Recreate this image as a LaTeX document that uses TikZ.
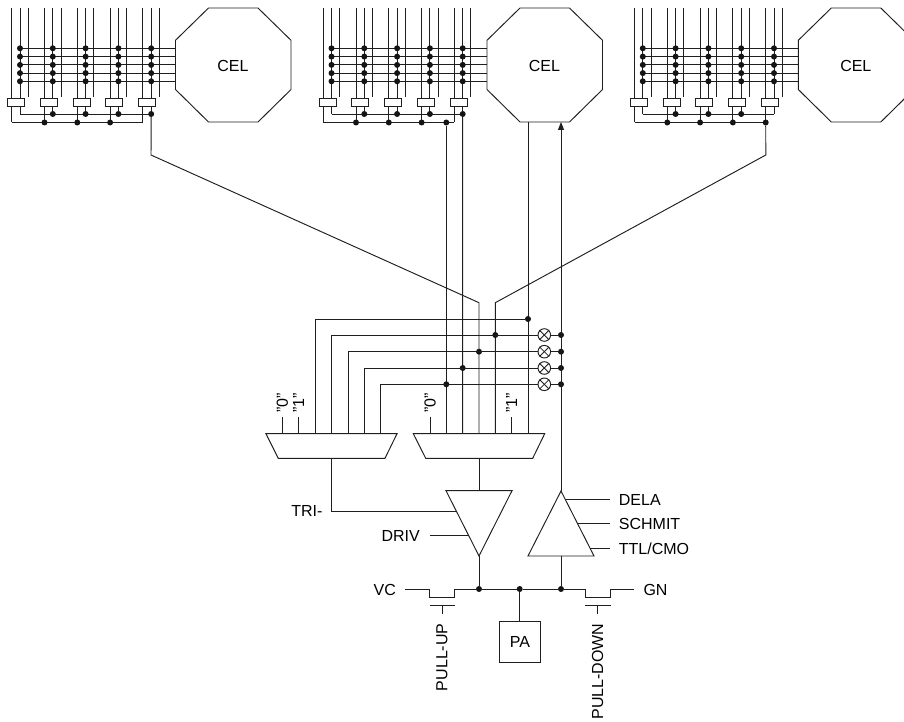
\documentclass[tikz,border=0pt]{standalone}
\usepackage{fontspec}
\setmainfont{Liberation Sans}
\usetikzlibrary{arrows.meta}
\tikzset{
  wire/.style={line width=0.95pt,draw=black!88,line join=miter},
  dotn/.style={circle,fill=black!92,inner sep=0pt,minimum size=6pt},
  lbl/.style={inner sep=0pt,font=\fontsize{16}{18}\selectfont},
  swbox/.style={draw=black!88,line width=0.95pt,fill=white,inner sep=0pt,minimum width=17pt,minimum height=8.3pt},
  xcirc/.style={circle,draw=black!88,line width=0.95pt,fill=white,inner sep=0pt,minimum size=12.6pt},
  padbox/.style={draw=black!88,line width=0.95pt,inner sep=0pt,minimum size=41pt,font=\fontsize{16}{18}\selectfont}
}
\begin{document}
\begin{tikzpicture}[x=1pt,y=-1pt]
\useasboundingbox (0,0) rectangle (904,722);
% CEL blocks
\foreach \b/\off in {1/0,2/311.5,3/622.8}{
\begin{scope}[shift={(\off,0)}]
  \node[lbl] (cel\b) at (233,66) {CEL};
  \draw[wire] (175.5,40.3) -- (208.5,8) -- (258,8) -- (291,40.3) -- (291,89.5) -- (258,122) -- (208.5,122) -- (175.5,89.5) -- cycle;
  \foreach \g in {0,...,4}{
    \pgfmathsetmacro{\xa}{11.7+32.8*\g}
    \pgfmathsetmacro{\xb}{\xa+8.3}
    \pgfmathsetmacro{\xc}{\xa+16.5}
    \coordinate (ta\b\g) at (\xa,8);
    \coordinate (tb\b\g) at (\xb,8);
    \coordinate (tc\b\g) at (\xc,8);
    \coordinate (ba\b\g) at (\xa,122.5);
    \coordinate (bb\b\g) at (\xb,114);
    \coordinate (bc\b\g) at (\xc,97);
    \draw[wire] (ta\b\g) -- (ba\b\g);
    \draw[wire] (tb\b\g) -- (bb\b\g);
    \draw[wire] (tc\b\g) -- (bc\b\g);
    \node[swbox] (sw\b\g) at ({\xa+4.3},102.2) {};
  }
  \foreach \y [count=\r] in {48.3,56.6,64.9,73.1,81.3}{
    \coordinate (hl\b\r) at (20,\y);
    \coordinate (hr\b\r) at (175.5,\y);
    \draw[wire] (hl\b\r) -- (hr\b\r);
    \foreach \g in {0,...,4}{
      \node[dotn] (m\b\r\g) at ({20+32.8*\g},\y) {};
    }
  }
  \draw[wire] (bb\b0) -- (bb\b4);
  \draw[wire] (ba\b0) -- (ba\b4);
  \foreach \g in {1,2,3}{
    \node[dotn] (pa\b\g) at (ba\b\g) {};
    \node[dotn] (pb\b\g) at (bb\b\g) {};
  }
\end{scope}
}
\node[dotn] (out1) at (bb14) {};
\node[dotn] (outa) at (446.3,122.5) {};
\node[dotn] (outb) at (bb24) {};
\node[dotn] (out3) at (ba34) {};
\coordinate (k1) at (151,155);
\coordinate (k3) at (765.8,155);
\coordinate (enbot) at (528,122);
\coordinate (intop) at (561,122);
% muxes
\draw[wire] (266,433.7) coordinate (ml) -- (397,433.7) -- (385,458.3) -- (278.3,458.3) -- cycle;
\draw[wire] (413.3,433.7) coordinate (mr) -- (544.7,433.7) -- (532.7,458.3) -- (425.7,458.3) -- cycle;
\coordinate (l0) at (282.3,433.7); \coordinate (l0t) at (282.3,417.3);
\coordinate (l1) at (298.7,433.7); \coordinate (l1t) at (298.7,417.3);
\coordinate (l2) at (315,433.7);
\coordinate (l3) at (331.7,433.7);
\coordinate (l4) at (348,433.7);
\coordinate (l5) at (364.3,433.7);
\coordinate (l6) at (380.7,433.7);
\coordinate (lo) at (331.7,458.3);
\coordinate (r0) at (430,433.7); \coordinate (r0t) at (430,417.3);
\coordinate (r1) at (446.3,433.7);
\coordinate (r2) at (462.7,433.7);
\coordinate (r3) at (479,433.7);
\coordinate (r4) at (495.3,433.7);
\coordinate (r5) at (511.7,433.7); \coordinate (r5t) at (511.7,417.3);
\coordinate (r6) at (528,433.7);
\coordinate (ro) at (479,458.3);
\draw[wire] (l0) -- (l0t); \draw[wire] (l1) -- (l1t);
\draw[wire] (r0) -- (r0t); \draw[wire] (r5) -- (r5t);
\node[lbl,rotate=90] (t0a) at (282.3,403) {"0"};
\node[lbl,rotate=90] (t1a) at (298.7,403) {"1"};
\node[lbl,rotate=90] (t0b) at (430,403) {"0"};
\node[lbl,rotate=90] (t1b) at (511.7,403) {"1"};
% long verticals
\draw[wire] (r1) -- (outa);
\draw[wire] (r2) -- (outb);
\draw[wire] (r3) -- (479,302.7) -- (k1) -- (out1);
\draw[wire] (r4) -- (495.3,302.7) -- (k3) -- (out3);
\draw[wire] (r6) -- (enbot);
% xor row
\node[dotn] (j1) at (528,319) {};
\node[dotn] (j2) at (495.3,335) {};
\node[dotn] (j3) at (479,351.7) {};
\node[dotn] (j4) at (462.7,368) {};
\node[dotn] (j5) at (446.3,384.3) {};
\node[xcirc] (x2) at (544.3,335) {};
\node[xcirc] (x3) at (544.3,351.7) {};
\node[xcirc] (x4) at (544.3,368) {};
\node[xcirc] (x5) at (544.3,384.3) {};
\foreach \n in {2,3,4,5}{
  \draw[wire,line width=0.8pt] (x\n.north west) -- (x\n.south east);
  \draw[wire,line width=0.8pt] (x\n.north east) -- (x\n.south west);
}
\node[dotn] (e2) at (561,335) {};
\node[dotn] (e3) at (561,351.7) {};
\node[dotn] (e4) at (561,368) {};
\node[dotn] (e5) at (561,384.3) {};
\draw[wire] (l2) -- (315,319) -- (j1);
\draw[wire] (l3) -- (331.7,335) -- (x2);
\draw[wire] (l4) -- (348,351.7) -- (x3);
\draw[wire] (l5) -- (364.3,368) -- (x4);
\draw[wire] (l6) -- (380.7,384.3) -- (x5);
\foreach \n in {2,3,4,5}{ \draw[wire] (x\n) -- (e\n); }
% buffers
\draw[wire] (446,490.7) coordinate (dl) -- (512,490.7) -- (479,556) coordinate (dapex) -- cycle;
\draw[wire] (561,491) coordinate (rapex) -- (594,556) -- (528,556) -- cycle;
\coordinate (dtop) at (479,490.7);
\coordinate (rbase) at (561,556);
\coordinate (dtri) at (456,511);
\coordinate (driv) at (468.7,535.7);
\draw[wire] (ro) -- (dtop);
\draw[wire] (lo) -- (331.7,511) -- (dtri);
\node[lbl,anchor=east] (tTri) at (322.7,511) {TRI-};
\node[lbl,anchor=east] (tDriv) at (420,535.7) {DRIV};
\coordinate (drivs) at (430,535.7);
\draw[wire] (drivs) -- (driv);
\draw[wire,-{Triangle[width=6pt,length=8pt]}] (rapex) -- (intop);
\node[lbl,anchor=west] (tD) at (618.7,500) {DELA};
\node[lbl,anchor=west] (tS) at (618.7,524) {SCHMIT};
\node[lbl,anchor=west] (tT) at (618.7,549) {TTL/CMO};
\coordinate (de) at (565,499); \coordinate (de2) at (610,499);
\coordinate (se) at (577,523.7); \coordinate (se2) at (610,523.7);
\coordinate (te) at (590,548); \coordinate (te2) at (610,548);
\draw[wire] (de) -- (de2); \draw[wire] (se) -- (se2); \draw[wire] (te) -- (te2);
% bottom rail
\node[dotn] (n1) at (479,589) {};
\node[dotn] (n2) at (519.7,589) {};
\node[dotn] (n3) at (561,589) {};
\node[lbl,anchor=east] (tVC) at (396,590) {VC};
\node[lbl,anchor=west] (tGN) at (643.3,590) {GN};
\coordinate (vs) at (405.3,589);
\coordinate (ge) at (634.3,589);
\draw[wire] (vs) -- (429.3,589) -- (429.3,597.3) -- (454.7,597.3) -- (454.7,589) -- (n1) -- (n2) -- (n3) -- (585.3,589) -- (585.3,597.3) -- (610.7,597.3) -- (610.7,589) -- (ge);
\draw[wire] (dapex) -- (n1);
\draw[wire] (rbase) -- (n3);
\node[padbox] (pad) at (520,642.3) {PA};
\draw[wire] (n2) -- (pad.north -| n2);
\coordinate (g1l) at (429.7,605.7); \coordinate (g1r) at (454.7,605.7);
\coordinate (g1s) at (442,605.7); \coordinate (g1b) at (442,613.7);
\coordinate (g2l) at (585.3,605.7); \coordinate (g2r) at (610.7,605.7);
\coordinate (g2s) at (597.7,605.7); \coordinate (g2b) at (597.7,613.7);
\draw[wire] (g1l) -- (g1r); \draw[wire] (g1s) -- (g1b);
\draw[wire] (g2l) -- (g2r); \draw[wire] (g2s) -- (g2b);
\node[lbl,rotate=90,anchor=east] (tPU) at (442,623.3) {PULL-UP};
\node[lbl,rotate=90,anchor=east] (tPD) at (597.7,623.3) {PULL-DOWN};
\end{tikzpicture}
\end{document}
